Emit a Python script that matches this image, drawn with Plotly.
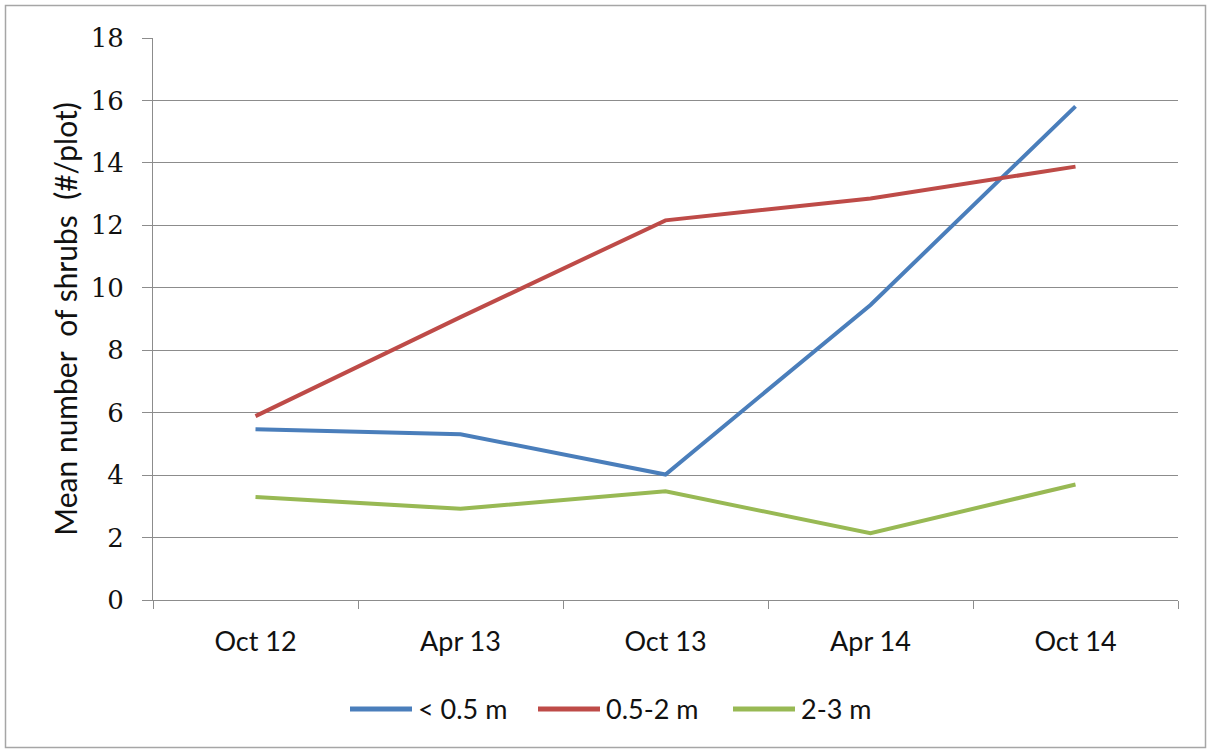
import plotly.graph_objects as go

# Survey dates and mean shrub counts per height class
dates = ["Oct 12", "Apr 13", "Oct 13", "Apr 14", "Oct 14"]
small = [5.47, 5.31, 4.02, 9.45, 15.81]      # < 0.5 m
medium = [5.89, 9.06, 12.16, 12.86, 13.88]   # 0.5-2 m
tall = [3.30, 2.92, 3.48, 2.14, 3.70]        # 2-3 m

series_names = ["< 0.5 m", "0.5-2 m", "2-3 m"]
series_values = [small, medium, tall]
series_colors = ["#4A7EBB", "#BE4B48", "#98B954"]

W, H = 1211, 753
L, R, T, B = 153, 33, 38, 153

fig = go.Figure()
for name, vals, col in zip(series_names, series_values, series_colors):
    fig.add_trace(go.Scatter(
        x=dates, y=vals, name=name, mode="lines",
        line=dict(color=col, width=4), showlegend=False,
    ))

grid = "#8C8C8C"
fig.update_layout(
    width=W, height=H,
    margin=dict(l=L, r=R, t=T, b=B),
    paper_bgcolor="white", plot_bgcolor="white",
    xaxis=dict(
        type="category", range=[-0.5, 4.5],
        tickson="boundaries", ticks="outside", ticklen=8, tickcolor=grid,
        showline=True, linecolor=grid, linewidth=1, showgrid=False,
        tickfont=dict(family="Lato", size=27, color="#111"),
        ticklabelstandoff=18,
    ),
    yaxis=dict(
        range=[0, 18], dtick=2, tick0=0,
        ticks="outside", ticklen=10, tickcolor=grid,
        showline=True, linecolor=grid, linewidth=1,
        showgrid=True, gridcolor=grid, gridwidth=1, zeroline=False,
        tickfont=dict(family="DejaVu Serif", size=26, color="#111"),
        ticklabelstandoff=13,
        title=dict(text="Mean number  of shrubs  (#/plot)",
                   font=dict(family="Lato", size=30, color="#111"),
                   standoff=4),
    ),
)

# Legend row below the plot: a line sample followed by its label
pw, ph = W - L - R, H - T - B
def px(x):
    return (x - L) / pw
def py(y):
    return (H - B - y) / ph

legend_y = 709
starts = [350, 538, 733]
for start, name, col in zip(starts, series_names, series_colors):
    fig.add_shape(type="line", xref="paper", yref="paper",
                  x0=px(start), x1=px(start + 62), y0=py(legend_y), y1=py(legend_y),
                  line=dict(color=col, width=5))
    fig.add_annotation(xref="paper", yref="paper", x=px(start + 66), y=py(legend_y),
                       text=name, showarrow=False, xanchor="left", yanchor="middle",
                       font=dict(family="Lato", size=27, color="#111"))

# Outer frame of the chart
fig.add_shape(type="rect", xref="paper", yref="paper",
              x0=px(5.5), x1=px(1205.5), y0=py(5.5), y1=py(747.5),
              line=dict(color="#A6A6A6", width=1.5), layer="below")

fig.write_html("out.html")
